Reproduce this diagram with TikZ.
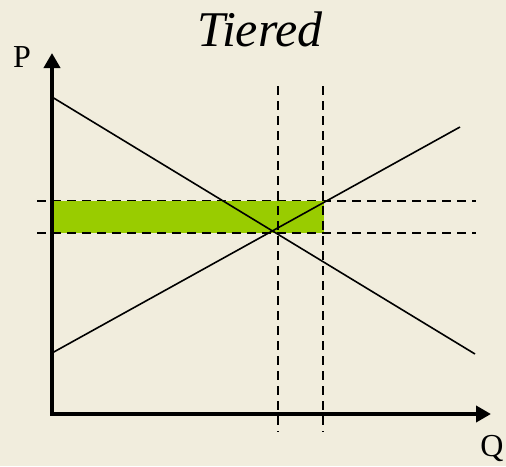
\documentclass[tikz,border=0pt]{standalone}
\usepackage{fontspec}
\setmainfont{Liberation Serif}
\usetikzlibrary{arrows.meta}
\definecolor{bg}{HTML}{F1EDDD}
\definecolor{surplus}{HTML}{99CC00}
\begin{document}
\begin{tikzpicture}[x=1pt,y=-1pt,
  axis/.style={line width=3.8pt,-{Triangle[length=15pt,width=16pt]}},
  curve/.style={line width=1.6pt},
  guide/.style={line width=1.5pt,dash pattern=on 9pt off 6pt},
  lbl/.style={inner sep=0pt,font=\fontsize{32}{36}\selectfont}]
\fill[bg] (0,0) rectangle (506,466);
\useasboundingbox (0,0) rectangle (506,466);
% coordinates
\coordinate (O) at (52,414);
\coordinate (Ptip) at (52,53);
\coordinate (Qtip) at (491,414);
\coordinate (Dstart) at (52,97);
\coordinate (Dend) at (475,354);
\coordinate (Sstart) at (52,353);
\coordinate (Send) at (460,127);
\coordinate (V1top) at (278,86);
\coordinate (V1bot) at (278,432);
\coordinate (V2top) at (323,86);
\coordinate (V2bot) at (323,432);
\coordinate (H1l) at (37,201);
\coordinate (H1r) at (476,201);
\coordinate (H2l) at (37,233);
\coordinate (H2r) at (476,233);
\coordinate (Ga) at (53,201);
\coordinate (Gb) at (324,233);
% guides
\draw[guide] (H1l) -- (H1r);
% surplus band
\fill[surplus] ([yshift=0.4pt]Ga) rectangle (Gb);
\draw[guide] (H2l) -- (H2r);
\draw[guide] (V1top) -- (V1bot);
\draw[guide] (V2top) -- (V2bot);
% curves
\draw[curve] (Dstart) -- (Dend);
\draw[curve] (Sstart) -- (Send);
% axes
\draw[axis] (O) -- (Ptip);
\draw[axis] ([xshift=-1.9pt]O) -- (Qtip);
% labels
\node[lbl] (P) at (22,57) {P};
\node[lbl] (Q) at (492,448) {Q};
\node[inner sep=0pt,font=\fontsize{50}{60}\selectfont\itshape] (title) at (260,29) {Tiered};
\end{tikzpicture}
\end{document}
